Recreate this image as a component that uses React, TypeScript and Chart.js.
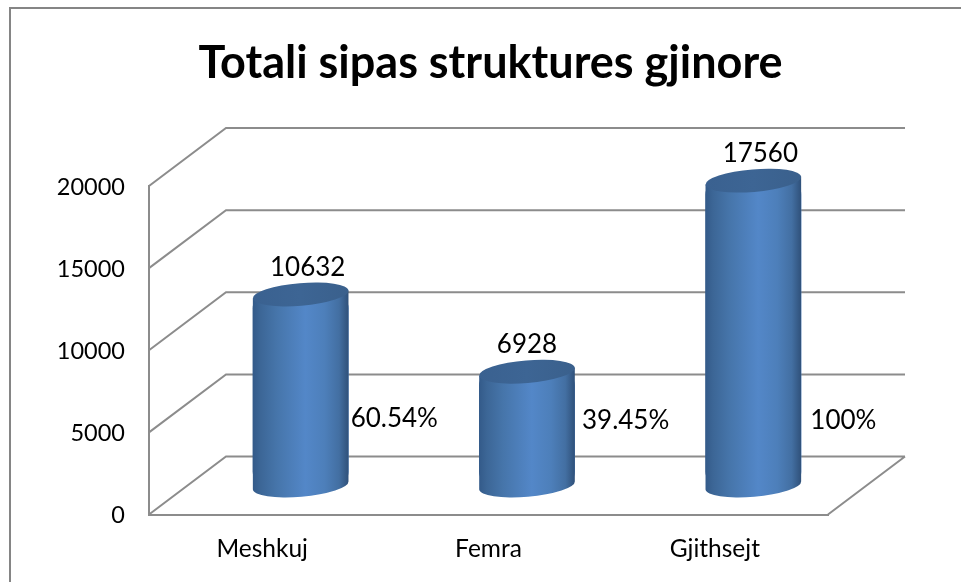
import React, { useEffect, useRef } from "react";
import { Chart, registerables } from "chart.js";

Chart.register(...registerables);

const chartTitle = "Totali sipas struktures gjinore";
const categories = ["Meshkuj", "Femra", "Gjithsejt"];
// Heights the cylinders actually reach on the axis in the picture.
const plottedHeights = [11632, 6928, 18560];
// Value labels printed above the cylinders in the picture.
const valueLabels = ["10632", "6928", "17560"];
const shareLabels = ["60.54%", "39.45%", "100%"];
const axisTicks = [0, 5000, 10000, 15000, 20000];

const FONT = "Lato, Carlito, Calibri, sans-serif";
const LINE = "#8c8c8c";
const DEPTH_X = 77;
const DEPTH_Y = -58;
const valueNudgeX = [7, 0, 7];
const shareNudgeX = [2, 7, 9];
const shareY = [419, 421, 421];

const TILT = (-4.8 * Math.PI) / 180;
const RY = 11.3;

function cylinderGradient(ctx: CanvasRenderingContext2D, cx: number, w: number) {
  const g = ctx.createLinearGradient(cx - w / 2, 0, cx + w / 2, 0);
  g.addColorStop(0, "#335a89");
  g.addColorStop(0.08, "#3c6696");
  g.addColorStop(0.25, "#4675aa");
  g.addColorStop(0.55, "#5387c8");
  g.addColorStop(0.75, "#4d7fba");
  g.addColorStop(0.9, "#436fa2");
  g.addColorStop(1, "#2f5079");
  return g;
}

const depthPlugin = {
  id: "depth3d",
  beforeDraw(chart: any) {
    const { ctx, width, height, scales } = chart;
    ctx.save();
    ctx.strokeStyle = "#858585";
    ctx.lineWidth = 2;
    ctx.beginPath();
    ctx.moveTo(10, height);
    ctx.lineTo(10, 8);
    ctx.lineTo(width, 8);
    ctx.stroke();

    const left = scales.x.left;
    const right = scales.x.right;
    ctx.strokeStyle = LINE;
    ctx.lineWidth = 2;
    ctx.beginPath();
    axisTicks.forEach((t) => {
      const y = scales.y.getPixelForValue(t);
      ctx.moveTo(left, y);
      ctx.lineTo(left + DEPTH_X, y + DEPTH_Y);
      ctx.lineTo(right + DEPTH_X, y + DEPTH_Y);
    });
    const y0 = scales.y.getPixelForValue(0);
    ctx.moveTo(right + DEPTH_X, y0 + DEPTH_Y);
    ctx.lineTo(right, y0);
    ctx.stroke();
    ctx.restore();
  },
  beforeDatasetsDraw(chart: any) {
    chart.ctx.save();
    chart.ctx.translate(DEPTH_X / 2, DEPTH_Y / 2);
  },
  afterDatasetsDraw(chart: any) {
    const { ctx } = chart;
    ctx.restore();
    const bars = chart.getDatasetMeta(0).data;
    bars.forEach((bar: any, i: number) => {
      const p = bar.getProps(["x", "y", "base", "width"], true);
      const cx = p.x + DEPTH_X / 2;
      const top = p.y + DEPTH_Y / 2;
      const base = p.base + DEPTH_Y / 2;
      const rx = p.width / 2;
      const dx = rx * Math.cos(TILT);
      const dy = rx * Math.sin(TILT);

      ctx.save();
      ctx.beginPath();
      ctx.ellipse(cx, base, rx, RY, TILT, 0, Math.PI);
      ctx.lineTo(cx - dx, top - dy);
      ctx.lineTo(cx + dx, top + dy);
      ctx.closePath();
      ctx.fillStyle = cylinderGradient(ctx, cx, p.width);
      ctx.fill();

      const cap = ctx.createLinearGradient(cx - rx, 0, cx + rx, 0);
      cap.addColorStop(0, "#3a6190");
      cap.addColorStop(0.5, "#3d6594");
      cap.addColorStop(1, "#3a608c");
      ctx.beginPath();
      ctx.ellipse(cx, top, rx, RY, TILT, 0, Math.PI * 2);
      ctx.fillStyle = cap;
      ctx.fill();

      ctx.fillStyle = "#000";
      ctx.font = `26px ${FONT}`;
      ctx.textBaseline = "middle";
      ctx.textAlign = "center";
      ctx.fillText(valueLabels[i], cx + valueNudgeX[i], top - 27);
      ctx.textAlign = "left";
      ctx.fillText(shareLabels[i], cx + rx + shareNudgeX[i], shareY[i]);
      ctx.restore();
    });
  },
};

export default function App() {
  const ref = useRef<HTMLCanvasElement | null>(null);
  useEffect(() => {
    if (!ref.current) return;
    const chart = new Chart(ref.current, {
      type: "bar",
      data: {
        labels: categories,
        datasets: [
          {
            data: plottedHeights,
            barPercentage: 0.424,
            categoryPercentage: 1,
            clip: false,
            yAxisID: "y",
            borderSkipped: false,
            borderRadius: 14,
            inflateAmount: 0,
            backgroundColor: (c: any) => {
              const s = c.chart.scales.x;
              if (!s || typeof c.dataIndex !== "number") return "#4877ae";
              const w = (s.width / categories.length) * 0.424;
              const cx = s.getPixelForValue(c.dataIndex) + DEPTH_X / 2;
              if (!Number.isFinite(cx) || !Number.isFinite(w)) return "#4877ae";
              return cylinderGradient(c.chart.ctx, cx, w);
            },
          } as any,
        ],
      },
      options: {
        responsive: false,
        animation: false,
        layout: { padding: { left: 20, right: 0, top: 0, bottom: 0 } },
        plugins: {
          legend: { display: false },
          tooltip: { enabled: false },
          title: {
            display: true,
            text: chartTitle,
            color: "#000",
            font: { family: FONT, size: 45, weight: "bold", lineHeight: 1.2 },
            padding: { top: 36, bottom: 96 },
          },
        },
        scales: {
          x: {
            grid: { display: false, drawTicks: false },
            border: { display: true, color: LINE, width: 2 },
            ticks: { color: "#000", font: { family: FONT, size: 24.5 }, padding: 20 },
            afterFit: (s: any) => {
              s.height = 67.5;
            },
          },
          y: {
            min: 0,
            max: 20000,
            afterBuildTicks: (s: any) => {
              s.ticks = axisTicks.map((value) => ({ value }));
            },
            grid: { display: false, drawTicks: false },
            border: { display: true, color: LINE, width: 2 },
            ticks: {
              color: "#000",
              font: { family: FONT, size: 23.5 },
              padding: 24,
              labelOffset: 1,
              callback: (v: any) => String(v),
            },
            afterFit: (s: any) => {
              s.width = 129;
            },
          },
          rightSpace: {
            position: "right",
            display: true,
            grid: { display: false, drawTicks: false },
            border: { display: false },
            ticks: { display: false },
            afterFit: (s: any) => {
              s.width = 133;
            },
          },
        },
      },
      plugins: [depthPlugin],
    } as any);
    return () => chart.destroy();
  }, []);
  return (
    <div style={{ position: "fixed", left: 0, top: 0 }}>
      <canvas ref={ref} width={961} height={582} style={{ display: "block" }} />
    </div>
  );
}
